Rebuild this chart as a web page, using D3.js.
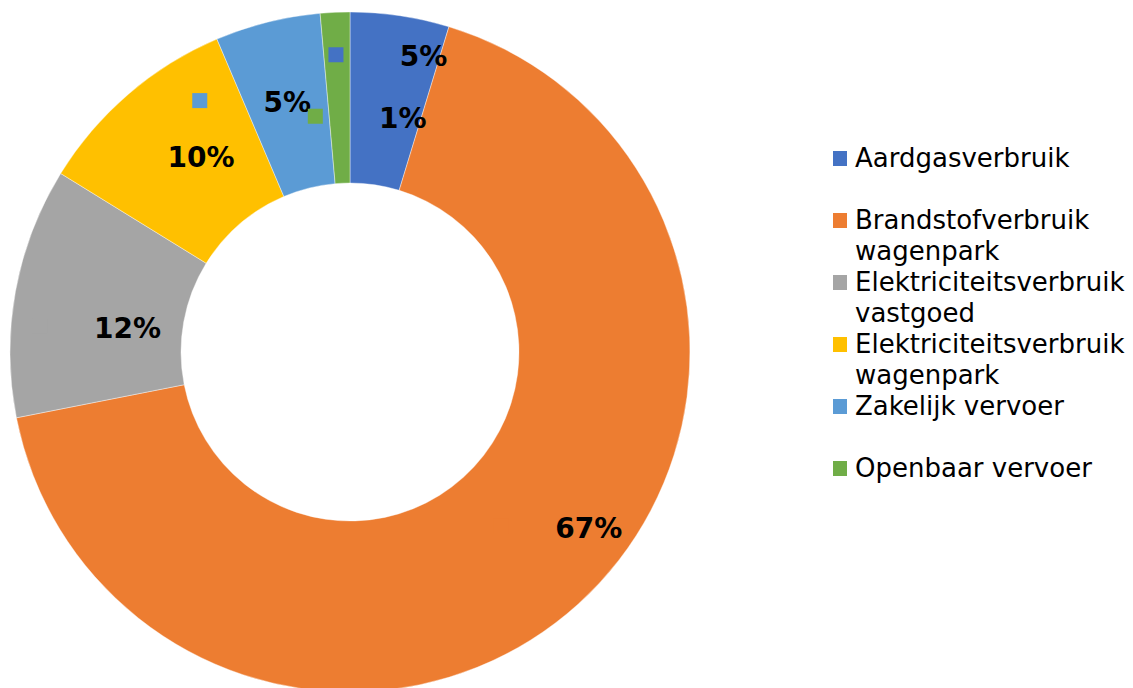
<!DOCTYPE html>
<html>
<head>
<meta charset="utf-8">
<script src="https://cdn.jsdelivr.net/npm/d3@7"></script>
<style>
  body { margin: 0; background: #fff; }
  svg { display: block; }
</style>
</head>
<body>
<div id="chart"></div>
<script>
// categories (legend lines), values in percent, colours
var categories = [
    ["Aardgasverbruik"],
    ["Brandstofverbruik", "wagenpark"],
    ["Elektriciteitsverbruik", "vastgoed"],
    ["Elektriciteitsverbruik", "wagenpark"],
    ["Zakelijk vervoer"],
    ["Openbaar vervoer"]
];
var values = [4.7, 67.2, 11.9, 9.8, 5.0, 1.4];
var colors = ["#4472C4", "#ED7D31", "#A5A5A5", "#FFC000", "#5B9BD5", "#70AD47"];

// labels were dragged away from the slice centre in the original
var labelShift = [[36, -44], [68, -13], [28, 21], [17, -2], [-1, -3], [64, 20]];

var width = 1133, height = 688;
var cx = 350, cy = 352,
    outerR = 340, innerR = 169;

var svg = d3.select("#chart").append("svg")
    .attr("width", width)
    .attr("height", height);

var pie = d3.pie().sort(null).value(function(d) { return d; });
var arcs = pie(values);
var total = d3.sum(values);
var fmt = d3.format(".0%");

var arc = d3.arc().innerRadius(innerR).outerRadius(outerR);

var g = svg.append("g").attr("transform", "translate(" + cx + "," + cy + ")");

g.selectAll("path.slice")
    .data(arcs)
    .enter().append("path")
    .attr("class", "slice")
    .attr("d", arc)
    .attr("fill", function(d, i) { return colors[i]; })
    .attr("stroke", "#fff")
    .attr("stroke-width", 0.4);

// data labels (with legend key, like the original)
var lab = g.selectAll("g.lab")
    .data(arcs)
    .enter().append("g")
    .attr("class", "lab")
    .attr("transform", function(d, i) {
        var c = arc.centroid(d);
        return "translate(" + (c[0] + labelShift[i][0]) + "," + (c[1] + labelShift[i][1]) + ")";
    });

lab.append("rect")
    .attr("x", -95)
    .attr("y", -9)
    .attr("width", 15)
    .attr("height", 15)
    .attr("fill", function(d, i) { return colors[i]; });

lab.append("text")
    .attr("text-anchor", "middle")
    .attr("y", 10)
    .style("font-family", "'DejaVu Sans', Verdana, sans-serif")
    .style("font-weight", "bold")
    .style("font-size", "28px")
    .attr("fill", "#000")
    .text(function(d) { return fmt(d.data / total); });

// legend
var legend = svg.append("g").attr("transform", "translate(833,167)");
var lineH = 31;

var item = legend.selectAll("g.item")
    .data(categories)
    .enter().append("g")
    .attr("class", "item")
    .attr("transform", function(d, i) { return "translate(0," + (i * 2 * lineH) + ")"; });

item.append("rect")
    .attr("x", 0)
    .attr("y", -16)
    .attr("width", 14)
    .attr("height", 15)
    .attr("fill", function(d, i) { return colors[i]; });

var txt = item.append("text")
    .attr("x", 22)
    .attr("y", 0)
    .style("font-family", "'DejaVu Sans', Verdana, sans-serif")
    .style("font-size", "26px")
    .attr("fill", "#000");

txt.selectAll("tspan")
    .data(function(d) { return d; })
    .enter().append("tspan")
    .attr("x", 22)
    .attr("dy", function(d, i) { return i == 0 ? 0 : lineH; })
    .text(function(d) { return d; });
</script>
</body>
</html>
